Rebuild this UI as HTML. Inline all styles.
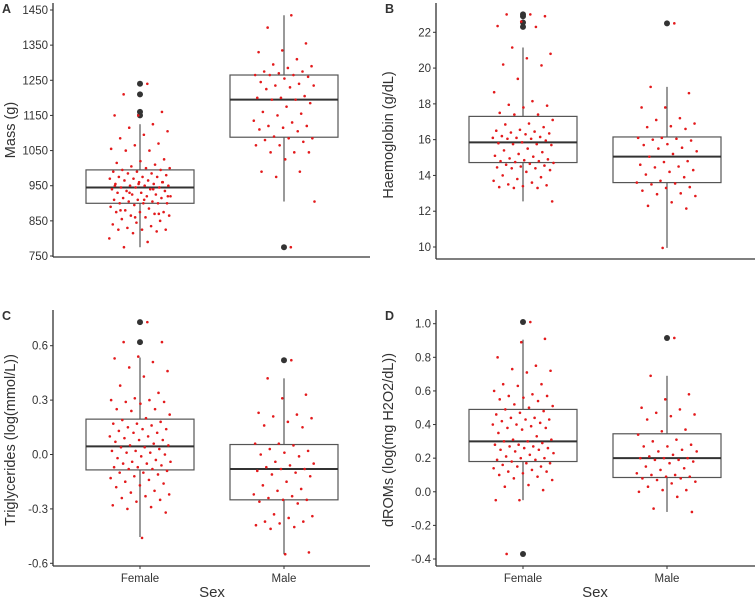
<!DOCTYPE html>
<html><head><meta charset="utf-8"><style>
html,body{margin:0;padding:0;background:#fff}
svg{display:block}
text{font-family:"Liberation Sans",sans-serif;fill:#333}
</style></head><body>
<svg id="chart" width="755" height="599" viewBox="0 0 755 599" xmlns="http://www.w3.org/2000/svg"></svg>
<script>
const categories=["Female","Male"];
// Panel A: Mass
const massFemale=[1240,1210,1160,1150,1150,1125,1115,1105,1095,1085,1070,1065,1055,1050,1050,1025,1020,1015,1010,1005,1000,1000,995,995,990,990,985,985,980,975,975,975,970,970,965,965,960,960,955,955,950,950,950,945,945,945,940,940,935,935,930,930,925,925,920,920,915,915,910,910,905,905,900,900,900,900,895,890,885,880,875,875,875,870,865,865,860,855,850,845,840,835,830,825,825,825,820,815,800,790,775,960,955,950,940,930,920,910,880,870,860];
const massMale=[1435,1400,1355,1335,1330,1310,1295,1290,1285,1275,1275,1270,1265,1265,1265,1260,1255,1245,1240,1235,1235,1230,1225,1205,1200,1200,1195,1195,1185,1175,1160,1155,1150,1135,1130,1120,1120,1115,1110,1105,1090,1085,1085,1080,1075,1065,1065,1045,1045,1045,1025,990,990,975,905,775];
const massBoxF=[775,900,945,995,1125]; const massBoxM=[905,1088,1195,1265,1435];
const massOutF=[1150,1160,1210,1240]; const massOutM=[775];
const massTicks=[750,850,950,1050,1150,1250,1350,1450];
// Panel B: Haemoglobin
const hbFemale=[23.0,23.0,22.9,22.6,22.35,22.3,21.15,20.8,20.55,20.2,20.15,19.4,18.65,18.15,17.95,17.9,17.8,17.5,17.4,17.4,17.1,16.9,16.85,16.7,16.55,16.5,16.45,16.4,16.35,16.3,16.2,16.15,16.1,16.1,16.05,16.05,15.95,15.85,15.8,15.75,15.75,15.7,15.5,15.4,15.3,15.2,15.1,15.05,14.95,14.9,14.85,14.8,14.8,14.75,14.7,14.65,14.6,14.55,14.5,14.45,14.4,14.4,14.3,14.2,14.0,13.9,13.8,13.7,13.6,13.5,13.45,13.4,13.35,13.3,13.3,12.55];
const hbMale=[22.5,18.95,18.6,17.8,17.8,17.2,17.1,16.9,16.75,16.7,16.6,16.1,16.1,16.05,16.0,15.95,15.75,15.7,15.55,15.5,15.35,15.2,15.05,14.8,14.75,14.6,14.5,14.45,14.3,14.2,14.05,13.9,13.7,13.6,13.55,13.5,13.35,13.3,13.15,13.0,12.95,12.85,12.5,12.3,12.15,9.95];
const hbBoxF=[12.55,14.72,15.85,17.3,21.15]; const hbBoxM=[9.95,13.6,15.05,16.15,18.95];
const hbOutF=[22.3,22.55,22.9,23.0]; const hbOutM=[22.5];
const hbTicks=[10,12,14,16,18,20,22];
// Panel C: Triglycerides
const tgFemale=[0.73,0.62,0.62,0.54,0.53,0.51,0.48,0.46,0.43,0.38,0.34,0.31,0.3,0.3,0.29,0.29,0.28,0.25,0.25,0.24,0.22,0.2,0.19,0.18,0.17,0.17,0.16,0.15,0.14,0.14,0.13,0.12,0.12,0.1,0.1,0.09,0.08,0.08,0.07,0.06,0.05,0.05,0.04,0.04,0.03,0.02,0.02,0.01,0.01,0.0,-0.01,-0.02,-0.03,-0.04,-0.04,-0.05,-0.05,-0.06,-0.07,-0.07,-0.08,-0.08,-0.09,-0.1,-0.1,-0.11,-0.12,-0.13,-0.14,-0.15,-0.16,-0.17,-0.18,-0.2,-0.21,-0.22,-0.23,-0.24,-0.25,-0.26,-0.28,-0.29,-0.3,-0.32,-0.46];
const tgMale=[0.52,0.42,0.33,0.31,0.23,0.22,0.21,0.2,0.18,0.16,0.15,0.06,0.06,0.05,0.03,0.02,0.01,0.0,-0.01,-0.04,-0.05,-0.06,-0.07,-0.08,-0.08,-0.09,-0.1,-0.11,-0.12,-0.15,-0.17,-0.19,-0.2,-0.22,-0.23,-0.24,-0.25,-0.25,-0.26,-0.27,-0.33,-0.34,-0.35,-0.37,-0.37,-0.38,-0.39,-0.4,-0.41,-0.54,-0.55];
const tgBoxF=[-0.455,-0.085,0.045,0.195,0.535]; const tgBoxM=[-0.55,-0.25,-0.08,0.055,0.42];
const tgOutF=[0.62,0.73]; const tgOutM=[0.52];
const tgTicks=[-0.6,-0.3,0.0,0.3,0.6]; const tgTickLabels=["-0.6","-0.3","0.0","0.3","0.6"];
// Panel D: dROMs
const drFemale=[1.01,-0.37,0.91,0.89,0.8,0.75,0.73,0.72,0.71,0.64,0.64,0.63,0.6,0.58,0.57,0.57,0.56,0.55,0.54,0.52,0.51,0.5,0.49,0.48,0.47,0.46,0.44,0.44,0.43,0.43,0.42,0.41,0.4,0.4,0.39,0.38,0.38,0.37,0.35,0.33,0.31,0.31,0.3,0.3,0.29,0.28,0.28,0.27,0.27,0.26,0.26,0.25,0.25,0.24,0.23,0.22,0.21,0.2,0.2,0.19,0.19,0.18,0.17,0.17,0.16,0.15,0.15,0.14,0.13,0.12,0.12,0.11,0.1,0.09,0.08,0.07,0.04,0.03,0.01,-0.05,-0.05];
const drMale=[0.915,0.69,0.58,0.55,0.5,0.49,0.47,0.46,0.45,0.43,0.37,0.36,0.34,0.31,0.3,0.28,0.27,0.27,0.25,0.24,0.24,0.22,0.21,0.2,0.2,0.2,0.19,0.19,0.18,0.17,0.15,0.14,0.13,0.11,0.1,0.1,0.09,0.09,0.08,0.08,0.07,0.06,0.05,0.03,0.01,0.01,0.0,-0.03,-0.1,-0.12];
const drBoxF=[-0.05,0.18,0.30,0.49,0.905]; const drBoxM=[-0.12,0.085,0.2,0.345,0.69];
const drOutF=[1.01,-0.37]; const drOutM=[0.915];
const drTicks=[-0.4,-0.2,0.0,0.2,0.4,0.6,0.8,1.0]; const drTickLabels=["-0.4","-0.2","0.0","0.2","0.4","0.6","0.8","1.0"];

const svg=document.getElementById('chart');
const NS='http://www.w3.org/2000/svg';
function mk(tag,attrs,parent){const e=document.createElementNS(NS,tag);for(const k in attrs)e.setAttribute(k,attrs[k]);(parent||svg).appendChild(e);return e;}

function panel(cfg){
  const g=mk('g',{});
  
  
  const y=v=>cfg.yTop+(cfg.vTop-v)*(cfg.yBot-cfg.yTop)/(cfg.vTop-cfg.vBot);
  const cx=[cfg.x0+87,cfg.x0+231];
  const hw=54;
  // axes
  const ya=mk('line',{x1:cfg.x0,x2:cfg.x0,y1:cfg.axTop,y2:cfg.axBot,stroke:'#333','stroke-width':1.3},g);
  
  
  const xa=mk('line',{x1:cfg.x0,x2:cfg.xEnd,y1:cfg.axBot,y2:cfg.axBot,stroke:'#333','stroke-width':1.3},g);
  
  
  cfg.ticks.forEach((t,i)=>{
    const yy=y(t);
    mk('line',{x1:cfg.x0-3,x2:cfg.x0,y1:yy,y2:yy,stroke:'#333','stroke-width':1},g);
    const tx=mk('text',{x:cfg.x0-5,y:yy+4,'text-anchor':'end','font-size':11.5},g);
    tx.textContent=cfg.labels?cfg.labels[i]:String(t);
    
    
  });
  const yt=mk('text',{x:0,y:0,'text-anchor':'middle','font-size':14.5,transform:`translate(${cfg.titleX},${cfg.titleY}) rotate(-90)`},g);
  yt.textContent=cfg.title;
  
  
  const pl=mk('text',{x:cfg.x0-51,y:cfg.axTop+10,'font-size':12.5,'font-weight':'bold'},g);
  pl.textContent=cfg.letter;
  
  
  if(cfg.showX){
    categories.forEach((c,i)=>{
      mk('line',{x1:cx[i],x2:cx[i],y1:cfg.axBot,y2:cfg.axBot+3,stroke:'#333'},g);
      const t=mk('text',{x:cx[i],y:cfg.axBot+16,'text-anchor':'middle','font-size':11.5},g);
      t.textContent=c;
      
      
    });
    const xt=mk('text',{x:cfg.x0+159,y:cfg.axBot+31,'text-anchor':'middle','font-size':15},g);
    xt.textContent='Sex';
    
    
  }
  [cfg.boxF,cfg.boxM].forEach((b,i)=>{
    const bg=mk('g',{},g);
    
    
    mk('line',{x1:cx[i],x2:cx[i],y1:y(b[0]),y2:y(b[1]),stroke:'#555','stroke-width':1.2},bg);
    mk('line',{x1:cx[i],x2:cx[i],y1:y(b[3]),y2:y(b[4]),stroke:'#555','stroke-width':1.2},bg);
    mk('rect',{x:cx[i]-hw,y:y(b[3]),width:2*hw,height:y(b[1])-y(b[3]),fill:'none',stroke:'#555','stroke-width':1.2},bg);
    mk('line',{x1:cx[i]-hw,x2:cx[i]+hw,y1:y(b[2]),y2:y(b[2]),stroke:'#333','stroke-width':2},bg);
  });
  [cfg.outF,cfg.outM].forEach((arr,i)=>{
    arr.forEach(v=>{
      const c=mk('circle',{cx:cx[i],cy:y(v),r:3,fill:'#333'},g);
      
      
    });
  });
  [cfg.ptsF,cfg.ptsM].forEach((arr,i)=>{
    arr.forEach((v,k)=>{
      const j=(((k+1)*0.6180339887)%1-0.5)*62;
      const c=mk('circle',{cx:cx[i]+j,cy:y(v),r:1.3,fill:'#e31a1c'},g);
      
      
    });
  });
}

panel({name:'panel-a-mass',letter:'A',title:'Mass (g)',x0:53,xEnd:370,axTop:3,axBot:257,yTop:10,yBot:256,vTop:1450,vBot:750,ticks:massTicks,titleX:15,titleY:130,boxF:massBoxF,boxM:massBoxM,outF:massOutF,outM:massOutM,ptsF:massFemale,ptsM:massMale,showX:false});
panel({name:'panel-b-haemoglobin',letter:'B',title:'Haemoglobin (g/dL)',x0:436,xEnd:755,axTop:3,axBot:259,yTop:32.3,yBot:247,vTop:22,vBot:10,ticks:hbTicks,titleX:393,titleY:135,boxF:hbBoxF,boxM:hbBoxM,outF:hbOutF,outM:hbOutM,ptsF:hbFemale,ptsM:hbMale,showX:false});
panel({name:'panel-c-triglycerides',letter:'C',title:'Triglycerides (log(mmol/L))',x0:53,xEnd:370,axTop:310,axBot:566,yTop:345.7,yBot:563.3,vTop:0.6,vBot:-0.6,ticks:tgTicks,labels:tgTickLabels,titleX:15,titleY:440,boxF:tgBoxF,boxM:tgBoxM,outF:tgOutF,outM:tgOutM,ptsF:tgFemale,ptsM:tgMale,showX:true});
panel({name:'panel-d-droms',letter:'D',title:'dROMs (log(mg H2O2/dL))',x0:436,xEnd:755,axTop:310,axBot:566,yTop:323.7,yBot:559,vTop:1.0,vBot:-0.4,ticks:drTicks,labels:drTickLabels,titleX:393,titleY:440,boxF:drBoxF,boxM:drBoxM,outF:drOutF,outM:drOutM,ptsF:drFemale,ptsM:drMale,showX:true});
</script>
</body></html>
